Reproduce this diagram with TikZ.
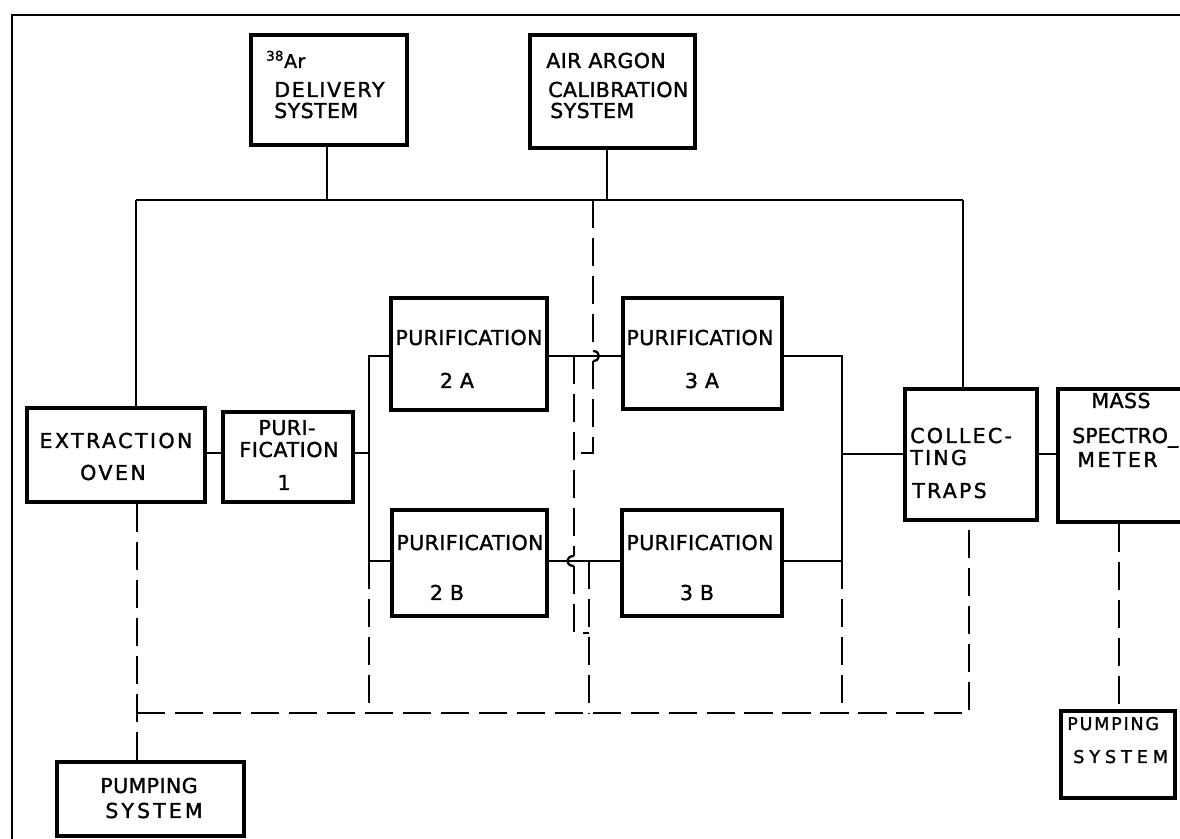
\documentclass[tikz,border=0pt]{standalone}
\usepackage{fontspec}
\newfontfamily\lab[LetterSpace=2,FakeBold=1.5]{DejaVu Sans}
\usetikzlibrary{positioning,fit,calc}
\newcommand\tracked[2]{{\addfontfeature{LetterSpace=#1}#2}}

\begin{document}
\begin{tikzpicture}[x=0.025cm, y=-0.025cm,
        blk/.style={draw, line width=2.5pt, inner sep=0pt},
        txt/.style={inner sep=0pt, anchor=base, font=\lab\fontsize{14.6pt}{14.6pt}\selectfont},
        ltxt/.style={txt, anchor=base west},
        pipe/.style={line width=1.6pt},
        vac/.style={line width=1.6pt, dash pattern=on 20pt off 7pt},
        frame/.style={line width=1.5pt}]
        \useasboundingbox (0,0) rectangle (1180,839);
        \clip (0,0) rectangle (1180,839);

        % boxes
        \node[blk, fit={(251,35) (407,145)}] (ar38) {};
        \node[blk, fit={(530,35) (695,148)}] (airarg) {};
        \node[blk, fit={(27,408) (205,502)}] (oven) {};
        \node[blk, fit={(223,412) (353,502)}] (pur1) {};
        \node[blk, fit={(391,298) (547,410)}] (p2A) {};
        \node[blk, fit={(392,510) (547,616)}] (p2B) {};
        \node[blk, fit={(623,298) (782,409)}] (p3A) {};
        \node[blk, fit={(622,510) (782,616)}] (p3B) {};
        \node[blk, fit={(905,389) (1037,520)}] (traps) {};
        \node[blk, fit={(1058,389) (1186,522)}] (mass) {};
        \node[blk, fit={(1061,711) (1175,798)}] (pumpR) {};
        \node[blk, fit={(57,762) (244,836)}] (pumpL) {};

        % labels
        \node[ltxt, font=\lab\fontsize{13.5pt}{13.5pt}\selectfont] (ar38a) at (266,68) {\textsuperscript{38}Ar};
        \node[ltxt] (ar38b) at (274,97) {\tracked{8}{DELIVERY}};
        \node[ltxt] (ar38c) at (274,118) {SYSTEM};
        \node[ltxt] (airargA) at (546,68) {AIR ARGON};
        \node[ltxt] (airargB) at (548,97) {\tracked{2}{CALIBRATION}};
        \node[ltxt] (airargC) at (550,118) {SYSTEM};
        \node[txt] (ovenA) at (116,448) {\tracked{12}{EXTRACTION}};
        \node[txt] (ovenB) at (113,480) {\tracked{12}{OVEN}};
        \node[txt] (pur1A) at (287,435) {PURI-};
        \node[txt] (pur1B) at (289,457) {\tracked{3}{FICATION}};
        \node[txt] (pur1C) at (284,490) {1};
        \node[txt] (p2AA) at (469,345) {PURIFICATION};
        \node[txt] (p2AB) at (457,388) {2 A};
        \node[txt] (p2BA) at (470,550) {PURIFICATION};
        \node[txt] (p2BB) at (447,600) {2 B};
        \node[txt] (p3AA) at (700,345) {PURIFICATION};
        \node[txt] (p3AB) at (702,388) {3 A};
        \node[txt] (p3BA) at (700,550) {PURIFICATION};
        \node[txt] (p3BB) at (697,600) {3 B};
        \node[ltxt] (trapsA) at (910,443) {\tracked{11}{COLLEC-}};
        \node[ltxt] (trapsB) at (910,465) {\tracked{11}{TING}};
        \node[ltxt] (trapsC) at (912,498) {\tracked{11}{TRAPS}};
        \node[txt] (massA) at (1121,408) {MASS};
        \node[ltxt] (massB) at (1072,443) {\tracked{0}{SPECTRO\_}};
        \node[ltxt] (massC) at (1077,467) {\tracked{12}{METER}};
        \node[ltxt, font=\lab\fontsize{12.5pt}{12.5pt}\selectfont] (pumpRA) at (1067,730) {\tracked{10}{PUMPING}};
        \node[ltxt, font=\lab\fontsize{12.5pt}{12.5pt}\selectfont] (pumpRB) at (1073,763) {\tracked{28}{SYSTEM}};
        \node[txt] (pumpLA) at (149,793) {PUMPING};
        \node[txt] (pumpLB) at (154,818) {\tracked{15}{SYSTEM}};

        % junction points
        \coordinate (fTL) at (12,15);
        \coordinate (fTR) at (1180,15);
        \coordinate (fBL) at (12,839);
        \coordinate (busL) at (136,200);
        \coordinate (busR) at (963,200);
        \coordinate (tapD) at (327,200);
        \coordinate (tapC) at (607,200);
        \coordinate (j1) at (369,453);
        \coordinate (s2) at (369,356);
        \coordinate (s2b) at (369,561);
        \coordinate (m3) at (842,356);
        \coordinate (m3b) at (842,561);
        \coordinate (m3c) at (842,454);
        \coordinate (vb) at (137,713);
        \coordinate (vbR) at (969,713);
        \coordinate (pR) at (1119,600);
        \coordinate (x1) at (593,200);
        \coordinate (h1a) at (593,351);
        \coordinate (h1b) at (593,361);
        \coordinate (k1) at (574,453);
        \coordinate (t2) at (574,356);
        \coordinate (h2a) at (574,556);
        \coordinate (h2b) at (574,566);
        \coordinate (k2) at (589,633);
        \coordinate (t3) at (589,561);

        \draw[frame] (fTR) -- (fTL) -- (fBL);

        % gas lines
        \draw[pipe] (busL) -- (busR);
        \draw[pipe] (ar38.south -| tapD) -- (tapD);
        \draw[pipe] (airarg.south -| tapC) -- (tapC);
        \draw[pipe] (busL) -- (busL |- oven.north);
        \draw[pipe] (busR) -- (busR |- traps.north);
        \draw[pipe] (oven.east |- j1) -- (pur1.west |- j1);
        \draw[pipe] (pur1.east |- j1) -- (j1);
        \draw[pipe] (p2A.west |- s2) -- (s2) -- (s2b) -- (p2B.west |- s2b);
        \draw[pipe] (p2A.east |- s2) -- (p3A.west |- s2);
        \draw[pipe] (p2B.east |- s2b) -- (p3B.west |- s2b);
        \draw[pipe] (p3A.east |- m3) -- (m3) -- (m3b) -- (p3B.east |- m3b);
        \draw[pipe] (m3c) -- (traps.west |- m3c);
        \draw[pipe] (traps.east |- m3c) -- (mass.west |- m3c);

        % pumping lines
        \draw[vac] (oven.south -| vb) -- (pumpL.north -| vb);
        \draw[vac] (vb) -- (vbR) -- (traps.south -| vbR);
        \draw[vac] (s2b) -- (s2b |- vb);
        \draw[vac] (m3b) -- (m3b |- vb);
        \draw[vac] (mass.south -| pR) -- (pumpR.north -| pR);

        \draw[vac] (x1) -- (h1a);
        \draw[pipe] (h1a) .. controls +(8,0) and +(8,0) .. (h1b);
        \draw[vac] (h1b) -- (h1b |- k1) -- (k1);
        \draw[vac] (t2) -- (h2a);
        \draw[pipe] (h2a) .. controls +(-9,0) and +(-9,0) .. (h2b);
        \draw[vac] (h2b) -- (h2b |- k2) -- (k2);
        \draw[vac] (t3) -- (t3 |- vb);
    \end{tikzpicture}
\end{document}
